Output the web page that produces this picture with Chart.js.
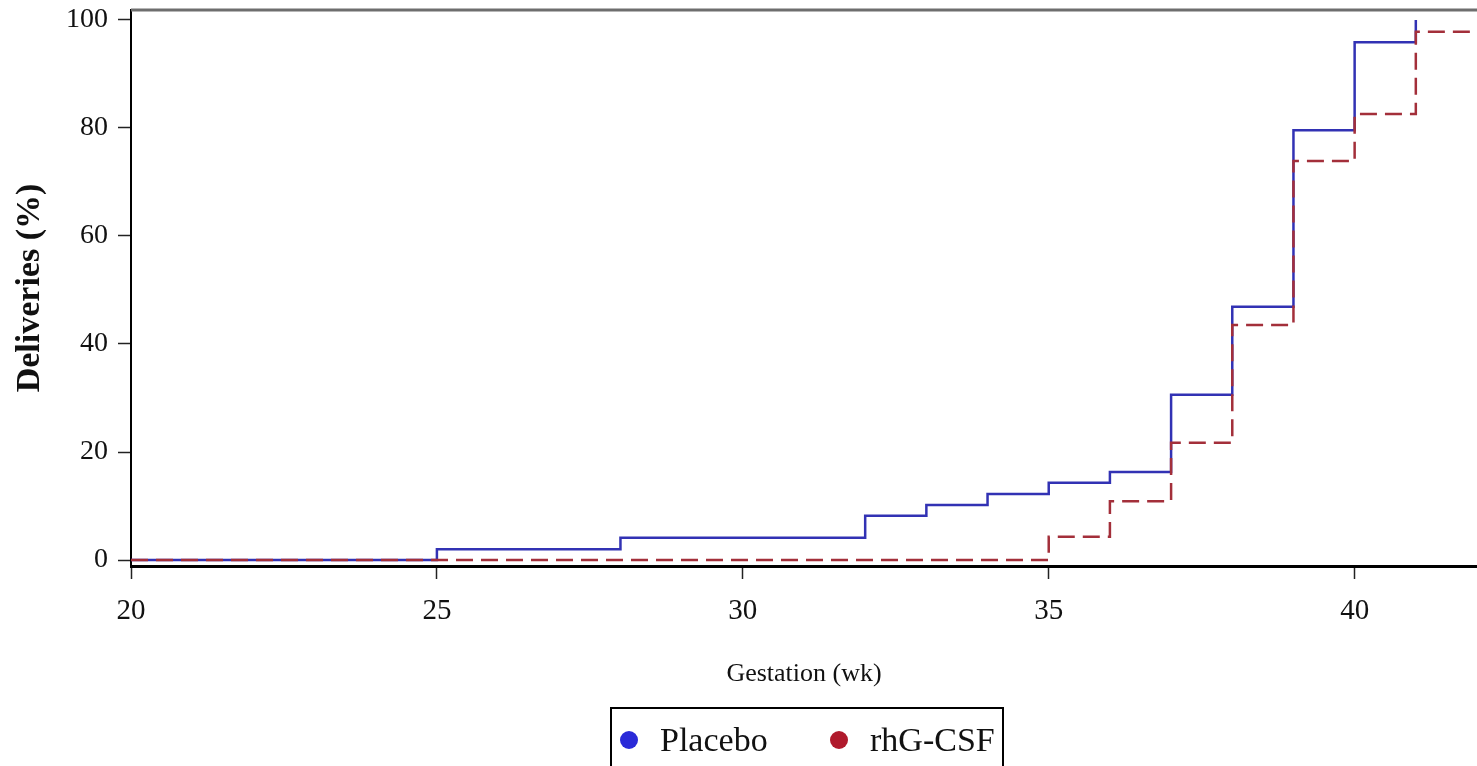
<!DOCTYPE html>
<html lang="en">
<head>
<meta charset="utf-8">
<title>Cumulative deliveries by gestation</title>
<script src="https://cdn.jsdelivr.net/npm/chart.js@4/dist/chart.umd.min.js"></script>
<style>
  html, body {
    margin: 0;
    padding: 0;
    background: #fff;
    overflow: hidden;
  }
  .chart-wrap {
    position: relative;
    width: 1477px;
    height: 766px;
  }
  .legend-box {
    position: absolute;
    left: 610px;
    top: 707px;
    width: 390px;
    height: 80px;
    border: 2px solid #000;
    font-family: "Liberation Serif", "Times New Roman", serif;
    font-size: 34px;
    color: #111;
  }
  .legend-item {
    position: absolute;
    top: 12px;
    display: flex;
    align-items: center;
    white-space: nowrap;
  }
  .legend-dot {
    width: 18px;
    height: 18px;
    border-radius: 50%;
    margin-right: 22px;
  }
</style>
</head>
<body>
<div class="chart-wrap">
  <canvas id="deliveryChart" width="1477" height="766"></canvas>
  <div class="legend-box">
    <div class="legend-item" style="left: 8px;">
      <span class="legend-dot" style="background: #2a2ad8;"></span>Placebo
    </div>
    <div class="legend-item" style="left: 218px;">
      <span class="legend-dot" style="background: #b01a2c;"></span>rhG-CSF
    </div>
  </div>
</div>
<script>
// Cumulative percentage of deliveries per gestational week
const placeboWeeks = [20, 25, 28, 32, 33, 34, 35, 36, 37, 38, 39, 40, 41];
const placeboPct = [0, 2.0, 4.1, 8.2, 10.2, 12.2, 14.3, 16.3, 30.6, 46.9, 79.6, 95.9, 100];
const rhgWeeks = [20, 35, 36, 37, 38, 39, 40, 41, 42];
const rhgPct = [0, 4.3, 10.9, 21.7, 43.5, 73.9, 82.6, 97.8, 97.8];

const xTicks = [20, 25, 30, 35, 40];
const yTicks = [0, 20, 40, 60, 80, 100];

const serif = "'Liberation Serif', 'Times New Roman', serif";

function toPoints(xs, ys) {
  return xs.map((x, i) => ({ x, y: ys[i] }));
}

// keep the plot box exactly where the layout padding puts it
function noScalePadding(scale) {
  scale.paddingTop = 0;
  scale.paddingBottom = 0;
  scale.paddingLeft = 0;
  scale.paddingRight = 0;
}

// gray frame line along the top of the plot
const topFrame = {
  id: "topFrame",
  beforeDatasetsDraw(chart) {
    const { ctx, chartArea } = chart;
    ctx.save();
    ctx.strokeStyle = "#6e6e6e";
    ctx.lineWidth = 3;
    ctx.beginPath();
    ctx.moveTo(chartArea.left, chartArea.top);
    ctx.lineTo(chartArea.right, chartArea.top);
    ctx.stroke();
    ctx.restore();
  }
};

document.addEventListener("DOMContentLoaded", () => {
  const canvas = document.getElementById("deliveryChart");

  new Chart(canvas, {
    type: "line",
    data: {
      datasets: [
        {
          label: "Placebo",
          data: toPoints(placeboWeeks, placeboPct),
          borderColor: "#3232b4",
          borderWidth: 2.5,
          stepped: "before",
          pointRadius: 0,
          fill: false
        },
        {
          label: "rhG-CSF",
          data: toPoints(rhgWeeks, rhgPct),
          borderColor: "#a32f3a",
          borderWidth: 2.5,
          borderDash: [17, 8],
          stepped: "before",
          pointRadius: 0,
          fill: false,
          order: -1
        }
      ]
    },
    options: {
      responsive: false,
      animation: false,
      layout: {
        autoPadding: false,
        padding: { left: 0, right: 0, top: 10, bottom: 72 }
      },
      plugins: {
        legend: { display: false },
        tooltip: { enabled: false }
      },
      scales: {
        x: {
          type: "linear",
          min: 20,
          max: 42,
          afterBuildTicks(scale) {
            scale.ticks = xTicks.map((value) => ({ value }));
          },
          afterFit(scale) {
            scale.height = 128;
            noScalePadding(scale);
          },
          border: { display: true, color: "#000", width: 3 },
          grid: {
            drawOnChartArea: false,
            drawTicks: true,
            tickLength: 13,
            tickColor: "#222",
            tickWidth: 1.5
          },
          ticks: {
            color: "#111",
            padding: 15,
            maxRotation: 0,
            font: { family: serif, size: 29 }
          },
          title: {
            display: true,
            text: "Gestation (wk)",
            color: "#111",
            padding: { top: 0, bottom: 4 },
            font: { family: serif, size: 26 }
          }
        },
        y: {
          min: -1.11,
          max: 101.85,
          afterBuildTicks(scale) {
            scale.ticks = yTicks.map((value) => ({ value }));
          },
          afterFit(scale) {
            scale.width = 131;
            noScalePadding(scale);
          },
          border: { display: true, color: "#000", width: 2 },
          grid: {
            drawOnChartArea: false,
            drawTicks: true,
            tickLength: 13,
            tickColor: "#222",
            tickWidth: 1.5
          },
          ticks: {
            color: "#111",
            padding: 10,
            font: { family: serif, size: 28 }
          },
          title: {
            display: true,
            text: "Deliveries (%)",
            color: "#111",
            padding: { top: 10, bottom: 0 },
            font: { family: serif, size: 34, weight: "bold" }
          }
        }
      }
    },
    plugins: [topFrame]
  });
});
</script>
</body>
</html>
